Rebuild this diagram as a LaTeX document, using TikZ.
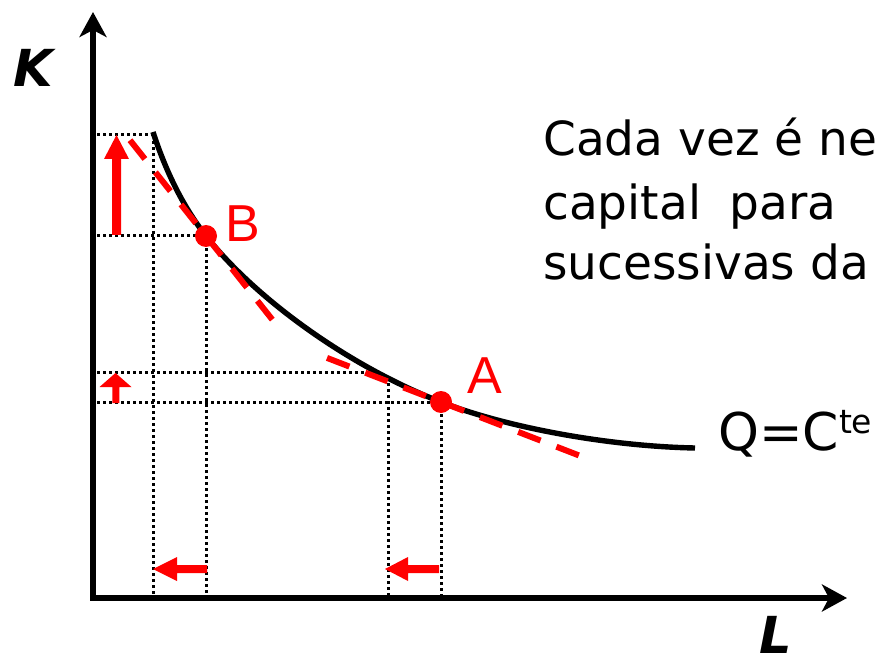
\documentclass[tikz,border=0pt]{standalone}
\usepackage{fontspec}
\usetikzlibrary{arrows.meta}
\newfontfamily\tah{DejaVu Sans}
\newfontfamily\dvs{DejaVu Sans}
\newfontfamily\lib{Liberation Sans}
\begin{document}
\begin{tikzpicture}[x=1pt,y=-1pt,
  axis/.style={line width=5.2pt, line join=miter,
    {Stealth[length=25pt,width=27pt,inset=7pt]}-{Stealth[length=25pt,width=27pt,inset=7pt]}},
  curve/.style={line width=5.4pt},
  dots/.style={line width=3pt, dash pattern=on 3pt off 3pt},
  tangent/.style={red, line width=6pt, dash pattern=on 24pt off 17pt},
  redarrow/.style={fill=red, draw=none},
  pt/.style={circle, fill=red, inner sep=0pt, minimum size=22pt},
  lbl/.style={red, anchor=base west, inner sep=0pt, font=\lib\fontsize{52}{52}\selectfont},
  axlbl/.style={anchor=base west, inner sep=0pt, font=\dvs\bfseries\itshape\fontsize{51}{51}\selectfont},
  para/.style={anchor=base west, inner sep=0pt, font=\tah\fontsize{47}{60}\selectfont}]
\useasboundingbox (0,0) rectangle (878,663);
\clip (0,0) rectangle (878,663);

% named coordinates
\coordinate (O) at (93,598);
\coordinate (Ktop) at (93,12);
\coordinate (Lend) at (847,598);
\coordinate (B) at (206,236);
\coordinate (A) at (441,402);
\coordinate (top) at (153,135);
\coordinate (mid) at (365,372);
\coordinate (midv) at (388,383);
\coordinate (S) at (153,132);
\coordinate (E) at (695,448);

% dotted guide lines
\draw[dots] (97,135) -- (top);
\draw[dots] (top) -- (153,596);
\draw[dots] (97,236) -- (B);
\draw[dots] (B) -- (206,596);
\draw[dots] (97,372) -- (mid);
\draw[dots] (midv) -- (388,596);
\draw[dots] (97,402) -- (A);
\draw[dots] (A) -- (441,596);

% axes
\draw[axis] (Ktop) -- (O) -- (Lend);

% isoquant
\draw[curve] (S) .. controls (165,169) and (182,205.5) .. (B)
  .. controls (257.6,301) and (351.6,367.4) .. (A)
  .. controls (508,428) and (609.6,446.3) .. (E);

% tangents
\draw[tangent] (130,140.2) -- (B) -- (275,323);
\draw[tangent] (327,357.9) -- (A) -- (583,457);

% points
\node[pt] (Bdot) at (B) {};
\node[pt] (Adot) at (A) {};
\node[lbl] (Blbl) at (225,241) {B};
\node[lbl] (Albl) at (467,393) {A};

% red arrows
\fill[redarrow] (112,235) -- (112,159) -- (104,159) -- (116.5,135) -- (129,159) -- (121,159) -- (121,235) -- cycle;
\fill[redarrow] (112.3,403) -- (112.3,387) -- (99.5,387) -- (115.5,373) -- (131.5,387) -- (119.3,387) -- (119.3,403) -- cycle;
\fill[redarrow] (207,565) -- (177,565) -- (177,557) -- (153,569) -- (177,581) -- (177,573) -- (207,573) -- cycle;
\fill[redarrow] (439,565) -- (408,565) -- (408,557) -- (385,569) -- (408,581) -- (408,573) -- (439,573) -- cycle;

% axis labels
\node[axlbl] (Klbl) at (13,87) {K};
\node[axlbl] (Llbl) at (759,653) {L};

% texts
\node[para] (l1) at (543,156) {Cada vez é ne};
\node[para] (l2) at (543,219) {capital\hspace{14pt} para};
\node[para] (l3) at (543,279) {sucessivas da};
\node[anchor=base west, inner sep=0pt, font=\tah\fontsize{52}{52}\selectfont] (Q) at (718,450) {Q=C\raisebox{17pt}{\fontsize{33}{33}\selectfont te}};
\end{tikzpicture}
\end{document}
